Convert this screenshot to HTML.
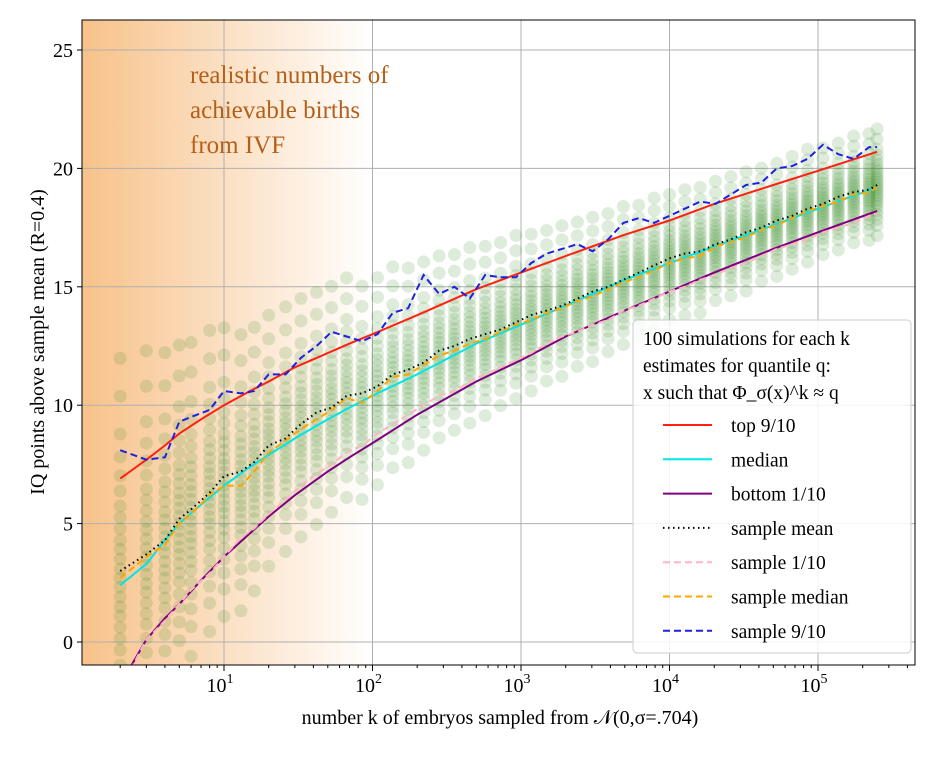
<!DOCTYPE html>
<html><head><meta charset="utf-8"><style>
html,body{margin:0;padding:0;background:#fff;}
svg text{font-family:"Liberation Serif","DejaVu Serif",serif;fill:#000;}
</style></head><body>
<svg id="chart" width="936" height="759" viewBox="0 0 936 759" xmlns="http://www.w3.org/2000/svg">
<defs>
<linearGradient id="ivfgrad" x1="0" x2="1" y1="0" y2="0">
<stop offset="0" stop-color="#f7c28a"/>
<stop offset="1" stop-color="#ffffff" stop-opacity="1"/>
</linearGradient>
<clipPath id="plotclip"><rect x="82" y="20" width="833" height="645"/></clipPath>
</defs>
<rect x="82" y="20" width="833" height="645" fill="#fff"/>
<rect id="ivfband" x="82" y="20" width="291" height="645" fill="url(#ivfgrad)"/>
<g id="grid"></g>
<g id="dots" clip-path="url(#plotclip)"></g>
<g id="lines" clip-path="url(#plotclip)"></g>
<rect x="82" y="20" width="833" height="645" fill="none" stroke="#000" stroke-width="1"/>
<g id="ticks"></g>
<text x="190" y="83" font-size="25" style="fill:#b5601a">realistic numbers of</text>
<text x="190" y="118" font-size="25" style="fill:#b5601a">achievable births</text>
<text x="190" y="153" font-size="25" style="fill:#b5601a">from IVF</text>
<text transform="translate(44,342) rotate(-90)" text-anchor="middle" font-size="20">IQ points above sample mean (R=0.4)</text>
<text x="500" y="724" text-anchor="middle" font-size="20">number k of embryos sampled from 𝒩(0,σ=.704)</text>
<g>
<rect x="633" y="320" width="278" height="333" rx="4" fill="#fff" fill-opacity="0.85" stroke="#ccc"/>
<text x="643" y="345" font-size="19.5">100 simulations for each k</text>
<text x="643" y="372" font-size="19.5">estimates for quantile q:</text>
<text x="643" y="399" font-size="19.5">x such that Φ_σ(x)^k ≈ q</text>
<g id="legend-entries"></g>
</g>
</svg>
<script>
const ks = [2,3,4,5,6,8,10,13,16,20,26,33,42,53,67,85,108,137,174,221,281,356,452,574,728,924,1172,1487,1887,2395,3039,3857,4894,6210,7880,10000,12700,16100,20400,25900,32800,41600,52800,67000,85000,108000,137000,174000,221000,250000];
const sampleMean = [3.0,3.7,4.3,5.2,5.6,6.3,7.0,7.2,7.6,8.3,8.6,9.2,9.7,9.9,10.4,10.5,10.8,11.3,11.5,11.8,12.3,12.5,12.8,13.0,13.2,13.5,13.8,14.0,14.2,14.5,14.8,15.0,15.3,15.6,15.9,16.2,16.4,16.5,16.8,17.0,17.3,17.5,17.8,18.0,18.3,18.5,18.8,19.0,19.1,19.3];
const sampleMedian = [2.7,3.6,4.1,5.0,5.4,6.2,6.6,6.6,7.2,8.0,8.5,9.0,9.4,9.8,10.3,10.1,10.6,11.2,11.3,11.7,12.1,12.3,12.6,12.8,13.1,13.4,13.6,13.9,14.1,14.4,14.6,14.9,15.2,15.4,15.7,16.0,16.2,16.3,16.7,16.9,17.1,17.4,17.6,17.9,18.2,18.4,18.6,18.9,19.0,19.2];
const sample10 = [-2.0,0.1,0.9,1.6,2.2,2.9,3.6,4.4,4.8,5.4,6.0,6.6,7.1,7.5,8.0,8.3,8.8,9.2,9.6,10.0,10.4,10.6,11.0,11.3,11.6,11.9,12.2,12.6,12.9,13.1,13.4,13.6,14.0,14.2,14.5,14.8,15.0,15.3,15.5,15.8,16.0,16.3,16.6,16.8,17.0,17.3,17.5,17.7,18.0,18.1];
const sample90 = [8.1,7.7,7.8,9.3,9.5,9.8,10.6,10.5,10.6,11.3,11.3,12.0,12.5,13.1,12.9,12.7,13.0,13.9,14.1,15.5,14.7,15.0,14.5,15.5,15.4,15.4,16.0,16.4,16.6,16.8,16.5,17.0,17.7,17.9,17.7,18.0,18.3,18.6,18.5,18.9,19.3,19.4,20.0,20.1,20.4,21.0,20.6,20.4,20.9,20.9];
const colSpread = [3.2,3.0,2.8,2.6,2.5,2.4,2.3,2.2,2.1,2.0,1.95,1.9,1.85,1.8,1.75,1.7,1.65,1.6,1.55,1.5,1.45,1.4,1.4,1.35,1.3,1.3,1.25,1.2,1.2,1.15,1.15,1.1,1.1,1.05,1.05,1.0,1.0,1.0,0.95,0.95,0.95,0.9,0.9,0.9,0.9,0.85,0.85,0.85,0.85,0.85];
const zScores = [-2.4,-1.9,-1.6,-1.35,-1.15,-0.95,-0.8,-0.65,-0.5,-0.38,-0.25,-0.12,0,0.12,0.25,0.38,0.5,0.65,0.8,0.95,1.15,1.35,1.6,1.9,2.4,2.9];
const theoryK = [2,3,4,5,7,10,15,20,30,50,70,100,200,500,1000,2000,5000,10000,20000,50000,100000,250000];
const top90 = [6.9,7.7,8.3,8.8,9.4,10.0,10.6,11.0,11.6,12.2,12.6,13.0,13.8,14.9,15.6,16.3,17.2,17.8,18.5,19.3,19.9,20.7];
const medianT = [2.4,3.3,4.3,5.0,5.8,6.6,7.4,7.9,8.6,9.4,9.9,10.4,11.3,12.6,13.4,14.2,15.3,16.0,16.7,17.6,18.3,19.2];
const bottom10 = [-1.8,0.1,1.0,1.6,2.6,3.6,4.6,5.3,6.2,7.2,7.8,8.4,9.6,11.0,11.9,12.9,14.0,14.8,15.6,16.6,17.3,18.2];
const yTicks = [0,5,10,15,20,25];
const xTickExps = [1,2,3,4,5];

const NS = "http://www.w3.org/2000/svg";
const L=82,R=915,T=20,B=665;
const X = k => 224 + 148.5*(Math.log10(k)-1);
const Y = v => 642 - 23.68*v;
function mk(tag, attrs, parent){const e=document.createElementNS(NS,tag);for(const a in attrs)e.setAttribute(a,attrs[a]);parent.appendChild(e);return e;}
const grid=document.getElementById('grid'), ticks=document.getElementById('ticks');
yTicks.forEach(v=>{
  const g=mk('line',{x1:L,x2:R,y1:Y(v),y2:Y(v),stroke:'#b0b0b0','stroke-width':1},grid);
  
  
  mk('line',{x1:L-5,x2:L,y1:Y(v),y2:Y(v),stroke:'#000'},ticks);
  const t=mk('text',{x:L-9,y:Y(v)+7,'text-anchor':'end','font-size':20},ticks);
  t.textContent=v;
  
  
});
xTickExps.forEach(e=>{
  const x=X(Math.pow(10,e));
  const g=mk('line',{x1:x,x2:x,y1:T,y2:B,stroke:'#b0b0b0','stroke-width':1},grid);
  
  
  mk('line',{x1:x,x2:x,y1:B,y2:B+6,stroke:'#000'},ticks);
  const t=mk('text',{x:x-4,y:B+27,'text-anchor':'middle','font-size':20},ticks);
  t.innerHTML='10<tspan dy="-9" font-size="14">'+e+'</tspan>';
  
  
});
for(let e=0;e<=5;e++){for(let m=2;m<=9;m++){const k=m*Math.pow(10,e);const x=X(k);if(x<L||x>R)continue;mk('line',{x1:x,x2:x,y1:B,y2:B+3,stroke:'#000'},ticks);}}
const dots=document.getElementById('dots');
ks.forEach((k,i)=>{zScores.forEach(z=>{
  const c=mk('circle',{cx:X(k),cy:Y(sampleMedian[i]+colSpread[i]*z),r:6.5,fill:'#3a8f2a','fill-opacity':0.17},dots);
  
  
});});
const lines=document.getElementById('lines');
function path(xs,vs,color,dash,w,name){
  const d=xs.map((k,i)=>(i?'L':'M')+X(k).toFixed(1)+','+Y(vs[i]).toFixed(1)).join('');
  const p=mk('path',{d:d,fill:'none',stroke:color,'stroke-width':w,'stroke-dasharray':dash||'none'},lines);
  
  
}
path(theoryK,top90,'#ff2010','',2,'top-90-line');
path(theoryK,bottom10,'#800080','',2,'bottom-10-line');
path(ks,sample10,'#ffb6c1','7,4',2,'sample-10-line');
path(theoryK,medianT,'#00e5e5','',2,'median-line');
path(ks,sampleMedian,'#ffa500','7,4',2,'sample-median-line');
path(ks,sampleMean,'#000','1.5,3.5',2,'sample-mean-line');
path(ks,sample90,'#2020e0','7,4',2,'sample-90-line');
const le=document.getElementById('legend-entries');
const entries=[['top 9/10','#ff2010',''],['median','#00e5e5',''],['bottom 1/10','#800080',''],['sample mean','#000','1.5,3.5'],['sample 1/10','#ffb6c1','7,4'],['sample median','#ffa500','7,4'],['sample 9/10','#2020e0','7,4']];
entries.forEach((en,i)=>{
  const y=425+34.3*i;
  const g=mk('g',{},le);
  
  
  mk('line',{x1:663,x2:712,y1:y,y2:y,stroke:en[1],'stroke-width':2,'stroke-dasharray':en[2]||'none'},g);
  const t=mk('text',{x:731,y:y+7,'font-size':19.5},g);
  t.textContent=en[0];
});
</script>
</body></html>
